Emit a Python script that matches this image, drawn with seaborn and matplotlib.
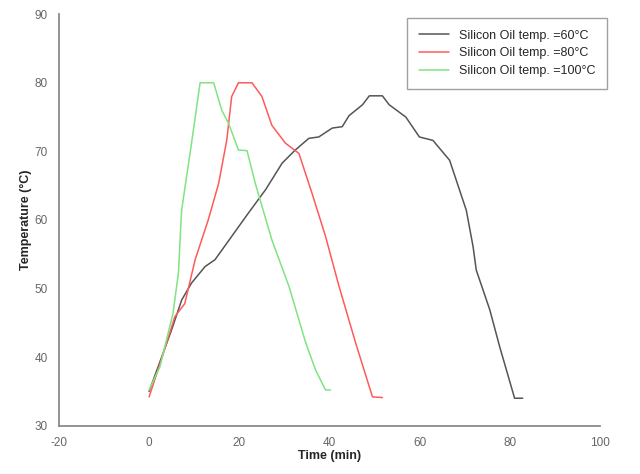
import numpy as np
import pandas as pd
import seaborn as sns
from matplotlib import pyplot as plt

# Silicon oil 60 C
time_60 = [0, 5, 7.2, 9.4, 12.4, 14.6, 18.3, 22, 25.8, 29.5, 32.4, 35.4, 37.6, 40.6,
           42.8, 44.3, 47.3, 48.8, 51.7, 53.2, 56.9, 59.9, 62.9, 66.6, 70.3, 71.8,
           72.5, 75.5, 77.7, 81, 82.8]
temp_60 = [35, 44, 48.3, 50.8, 53.2, 54.2, 57.6, 61, 64.4, 68.3, 70.2, 71.9, 72.1, 73.4,
           73.6, 75.2, 76.8, 78.1, 78.1, 76.8, 75, 72.1, 71.6, 68.7, 61.4, 56.1,
           52.7, 46.9, 41.5, 34, 34]

# Silicon oil 80 C
time_80 = [0, 2.7, 5.7, 7.9, 10.2, 13.1, 15.4, 17.2, 18.3, 19.8, 22.8, 25, 27.2, 30.2,
           33.2, 36.1, 39.1, 42.1, 45.8, 49.5, 51.7]
temp_80 = [34.2, 39.6, 45.9, 47.8, 54.2, 60, 65.3, 71.6, 78, 80, 80, 78, 73.8, 71.2,
           69.7, 63.9, 57.6, 50.3, 42, 34.2, 34.1]

# Silicon oil 100 C
time_100 = [0, 2.4, 5.3, 6.5, 7.2, 9.4, 11.3, 14.3, 16.1, 17.6, 19.8, 21.7, 23.5, 27.2,
            31, 34.7, 36.9, 39.1, 40.2]
temp_100 = [35.2, 38.6, 46.4, 52.3, 61.4, 71.2, 80, 80, 76, 74.1, 70.2, 70.1, 65.4, 57.1,
            50.3, 42.1, 38.1, 35.2, 35.2]

labels = ['Silicon Oil temp. =60°C', 'Silicon Oil temp. =80°C', 'Silicon Oil temp. =100°C']
colores = ['#555555', '#ff5a5a', '#80e480']

frames = []
for t, y, lab in zip([time_60, time_80, time_100], [temp_60, temp_80, temp_100], labels):
    frames.append(pd.DataFrame({'Time': t, 'Temp': y, 'serie': lab}))
df = pd.concat(frames, ignore_index=True)

sns.set_style('white')
plt.rcParams['font.family'] = ['Liberation Sans', 'DejaVu Sans']
plt.rcParams['axes.unicode_minus'] = False

fig = plt.figure(figsize=(6.4, 4.74), dpi=100)
ax = fig.add_axes([0.092, 0.102, 0.846, 0.868])
sns.lineplot(data=df, x='Time', y='Temp', hue='serie', palette=colores,
             sort=False, estimator=None, linewidth=1.1, ax=ax)

ax.set_xlim(-20, 100)
ax.set_ylim(30, 90)
ax.set_xticks(range(-20, 101, 20))
ax.set_yticks(range(30, 91, 10))
for s in ['top', 'right']:
    ax.spines[s].set_visible(False)
for s in ['left', 'bottom']:
    ax.spines[s].set_color('#8a8a8a')
    ax.spines[s].set_linewidth(1.3)
ax.tick_params(direction='in', length=7, width=1.3, color='#8a8a8a',
               labelcolor='#666666', labelsize=8.5, pad=8)
ax.set_xlabel('Time (min)', fontsize=9, fontweight='bold', labelpad=1)
ax.set_ylabel('Temperature (°C)', fontsize=9, fontweight='bold', labelpad=2)

leg = ax.legend(loc='upper right', bbox_to_anchor=(1.013, 0.991), fontsize=9,
                frameon=True, fancybox=False, handlelength=2.4, borderpad=0.95,
                labelspacing=0.45, handletextpad=0.8, borderaxespad=0)
leg.get_frame().set_edgecolor('#8a8a8a')
leg.get_frame().set_linewidth(1.0)
leg.set_title(None)

fig.savefig('out.png', dpi=100)
